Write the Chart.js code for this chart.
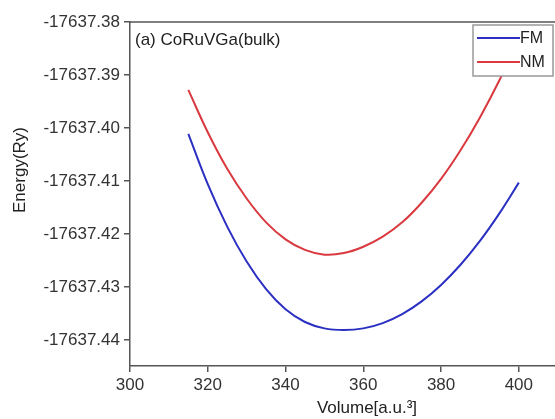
<!DOCTYPE html>
<html>
<head>
<meta charset="utf-8">
<script src="https://cdn.jsdelivr.net/npm/chart.js@4.4.0/dist/chart.umd.min.js"></script>
<style>
  html, body { margin: 0; padding: 0; background: #fff; }
  #wrap { width: 555px; height: 419px; }
</style>
</head>
<body>
<div id="wrap"><canvas id="energy"></canvas></div>
<script>
// volume in a.u.^3, energies in Ry
const volume = [315, 320, 325, 330, 335, 340, 345, 350, 355, 360, 365, 370, 375, 380, 385, 390, 395, 400];
const fmEnergy = [
  -17637.4011, -17637.4106, -17637.4186, -17637.4252, -17637.4304, -17637.4342,
  -17637.4366, -17637.4378, -17637.4381, -17637.4378, -17637.4368, -17637.4351,
  -17637.4327, -17637.4296, -17637.4258, -17637.4213, -17637.4161, -17637.4103
];
const nmEnergy = [
  -17637.3928, -17637.4008, -17637.4077, -17637.4133, -17637.4178, -17637.4210,
  -17637.4230, -17637.4239, -17637.4236, -17637.4224, -17637.4205, -17637.4178,
  -17637.4141, -17637.4096, -17637.4042, -17637.3980, -17637.3910, -17637.3831
];
const xTicks = [300, 320, 340, 360, 380, 400];
const yTicks = [-17637.38, -17637.39, -17637.40, -17637.41, -17637.42, -17637.43, -17637.44];
const seriesNames = ["FM", "NM"];
const seriesColors = ["#2b2fc2", "#d9393f"];

const FONT = "'Liberation Sans', Arial, sans-serif";

function points(ys) {
  return volume.map((v, i) => ({ x: v, y: ys[i] }));
}

// frame top line, panel label, legend and axis titles
const decorations = {
  id: "decorations",
  afterDatasetsDraw(chart) {
    const ctx = chart.ctx;
    const area = chart.chartArea;
    ctx.save();

    ctx.strokeStyle = "#555";
    ctx.lineWidth = 1.5;
    ctx.beginPath();
    ctx.moveTo(area.left, area.top);
    ctx.lineTo(area.right, area.top);
    ctx.stroke();

    ctx.fillStyle = "#222";
    ctx.font = "17px " + FONT;
    ctx.textBaseline = "middle";
    ctx.textAlign = "left";
    ctx.fillText("(a) CoRuVGa(bulk)", area.left + 5, area.top + 18);

    // legend box
    const lx = 473, ly = 25, lw = 80, lh = 51;
    ctx.fillStyle = "#fff";
    ctx.fillRect(lx, ly, lw, lh);
    ctx.strokeStyle = "#999";
    ctx.lineWidth = 1.5;
    ctx.strokeRect(lx, ly, lw, lh);
    seriesNames.forEach((name, i) => {
      const y = ly + 13 + i * 24;
      ctx.strokeStyle = seriesColors[i];
      ctx.lineWidth = 2;
      ctx.beginPath();
      ctx.moveTo(lx + 4, y);
      ctx.lineTo(lx + 47, y);
      ctx.stroke();
      ctx.fillStyle = "#222";
      ctx.font = "16px " + FONT;
      ctx.textAlign = "left";
      ctx.fillText(name, lx + 47, y + 1);
    });

    // axis titles
    ctx.fillStyle = "#222";
    ctx.font = "17px " + FONT;
    ctx.textAlign = "center";
    ctx.fillText("Volume[a.u.³]", 367, 408);
    ctx.translate(20, 170);
    ctx.rotate(-Math.PI / 2);
    ctx.fillText("Energy(Ry)", 0, 0);

    ctx.restore();
  }
};

new Chart(document.getElementById("energy"), {
  type: "line",
  data: {
    datasets: [
      { label: seriesNames[0], data: points(fmEnergy) },
      { label: seriesNames[1], data: points(nmEnergy) }
    ].map((d, i) => Object.assign(d, {
      borderColor: seriesColors[i],
      backgroundColor: seriesColors[i],
      borderWidth: 2,
      pointRadius: 0,
      tension: 0.4,
      fill: false
    }))
  },
  options: {
    responsive: true,
    maintainAspectRatio: false,
    animation: false,
    layout: { padding: { top: 22, right: 0, left: 0, bottom: 0 } },
    plugins: { legend: { display: false }, tooltip: { enabled: false } },
    scales: {
      x: {
        type: "linear",
        min: 300,
        max: 409.3,
        afterBuildTicks: s => { s.ticks = xTicks.map(v => ({ value: v })); },
        afterFit: s => { s.height = 53; },
        grid: { drawOnChartArea: false, drawTicks: true, tickLength: 6, color: "#555", lineWidth: 1.5 },
        border: { display: true, color: "#555", width: 1.5 },
        ticks: { color: "#333", font: { family: FONT, size: 17 }, padding: 3, maxRotation: 0 }
      },
      y: {
        min: -17637.4449,
        max: -17637.38,
        afterBuildTicks: s => { s.ticks = yTicks.map(v => ({ value: v })); },
        afterFit: s => { s.width = 130; },
        grid: { drawOnChartArea: false, drawTicks: true, tickLength: 6, color: "#555", lineWidth: 1.5 },
        border: { display: true, color: "#555", width: 1.5 },
        ticks: {
          color: "#333",
          font: { family: FONT, size: 17 },
          padding: 4,
          callback: v => v.toFixed(2)
        }
      }
    }
  },
  plugins: [decorations]
});
</script>
</body>
</html>
